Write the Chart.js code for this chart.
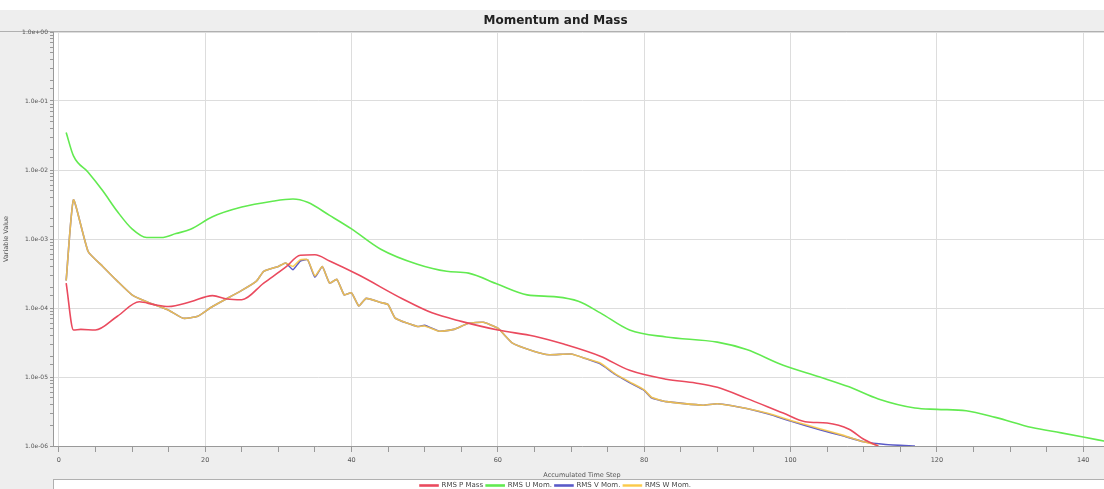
<!DOCTYPE html>
<html>
<head>
<meta charset="utf-8">
<script src="https://cdn.jsdelivr.net/npm/chart.js@4.4.0/dist/chart.umd.min.js"></script>
<style>
html, body { margin: 0; padding: 0; background: #fff; overflow: hidden; }
canvas { display: block; }
</style>
</head>
<body>
<canvas id="chart" width="1164" height="489"></canvas>
<script>
// RMS P Mass
const pSteps = [1, 2, 3, 5, 8, 11, 13, 15, 18, 21, 23, 25, 28, 31, 33, 35, 37, 41, 47, 51, 55, 60, 65, 69, 74, 78, 83, 87, 90, 94, 99, 102, 105, 108, 110, 112];
const pValues = [2.3e-4, 4.8e-5, 4.9e-5, 4.8e-5, 7.6e-5, 1.23e-4, 1.12e-4, 1.05e-4, 1.23e-4, 1.51e-4, 1.35e-4, 1.32e-4, 2.3e-4, 3.9e-4, 5.8e-4, 5.9e-4, 4.8e-4, 3.0e-4, 1.35e-4, 8.5e-5, 6.4e-5, 4.8e-5, 3.9e-5, 3.0e-5, 2.0e-5, 1.25e-5, 9.3e-6, 8.2e-6, 7.1e-6, 4.9e-6, 3.0e-6, 2.25e-6, 2.15e-6, 1.75e-6, 1.25e-6, 1.0e-6];

// RMS U Mom.
const uSteps = [1, 2, 4, 6, 8, 10, 12, 14, 16, 18, 21, 25, 29, 32, 34, 37, 40, 44, 49, 53, 56, 60, 64, 68, 71, 74, 78, 83, 90, 94, 99, 104, 108, 112, 117, 120, 124, 128, 133, 137, 140, 143];
const uValues = [3.5e-2, 1.6e-2, 9.3e-3, 5.0e-3, 2.5e-3, 1.4e-3, 1.05e-3, 1.05e-3, 1.2e-3, 1.38e-3, 2.1e-3, 2.9e-3, 3.5e-3, 3.8e-3, 3.4e-3, 2.2e-3, 1.4e-3, 7.1e-4, 4.3e-4, 3.4e-4, 3.2e-4, 2.2e-4, 1.55e-4, 1.45e-4, 1.25e-4, 8.5e-5, 4.8e-5, 3.8e-5, 3.2e-5, 2.5e-5, 1.48e-5, 1.0e-5, 7.2e-6, 4.8e-6, 3.55e-6, 3.4e-6, 3.25e-6, 2.6e-6, 1.85e-6, 1.55e-6, 1.35e-6, 1.17e-6];

// RMS V Mom.
const vSteps = [1, 2, 4, 6, 8, 10, 12, 15, 17, 19, 21, 25, 27, 28, 30, 31, 32, 33, 34, 35, 36, 37, 38, 39, 40, 41, 42, 44, 45, 46, 49, 50, 52, 54, 56, 58, 60, 62, 65, 67, 70, 72, 74, 76, 78, 80, 81, 83, 88, 90, 94, 97, 100, 104, 107, 110, 113, 117];
const vValues = [2.5e-4, 3.7e-3, 6.6e-4, 4.0e-4, 2.45e-4, 1.55e-4, 1.23e-4, 9.3e-5, 7.1e-5, 7.6e-5, 1.05e-4, 1.8e-4, 2.45e-4, 3.4e-4, 4.0e-4, 4.5e-4, 3.6e-4, 4.8e-4, 5.0e-4, 2.8e-4, 4.0e-4, 2.3e-4, 2.6e-4, 1.55e-4, 1.66e-4, 1.07e-4, 1.38e-4, 1.2e-4, 1.12e-4, 7.1e-5, 5.4e-5, 5.6e-5, 4.6e-5, 4.9e-5, 6.0e-5, 6.2e-5, 5.1e-5, 3.1e-5, 2.35e-5, 2.1e-5, 2.15e-5, 1.85e-5, 1.55e-5, 1.1e-5, 8.3e-6, 6.4e-6, 5.0e-6, 4.4e-6, 3.9e-6, 4.1e-6, 3.5e-6, 2.9e-6, 2.3e-6, 1.72e-6, 1.42e-6, 1.15e-6, 1.05e-6, 1.0e-6];

// RMS W Mom.
const wSteps = [1, 2, 4, 6, 8, 10, 12, 15, 17, 19, 21, 25, 27, 28, 30, 31, 32, 33, 34, 35, 36, 37, 38, 39, 40, 41, 42, 44, 45, 46, 49, 50, 52, 54, 56, 58, 60, 62, 65, 67, 70, 72, 74, 76, 78, 80, 81, 83, 88, 90, 94, 97, 100, 104, 107, 110, 112];
const wValues = [2.5e-4, 3.7e-3, 6.6e-4, 4.0e-4, 2.45e-4, 1.55e-4, 1.23e-4, 9.3e-5, 7.1e-5, 7.6e-5, 1.05e-4, 1.8e-4, 2.45e-4, 3.4e-4, 4.0e-4, 4.5e-4, 4.0e-4, 5.0e-4, 5.0e-4, 2.9e-4, 4.0e-4, 2.3e-4, 2.6e-4, 1.55e-4, 1.66e-4, 1.07e-4, 1.38e-4, 1.2e-4, 1.12e-4, 7.1e-5, 5.4e-5, 5.5e-5, 4.6e-5, 4.9e-5, 6.0e-5, 6.2e-5, 5.1e-5, 3.1e-5, 2.35e-5, 2.1e-5, 2.15e-5, 1.85e-5, 1.6e-5, 1.12e-5, 8.5e-6, 6.5e-6, 5.1e-6, 4.4e-6, 3.9e-6, 4.1e-6, 3.5e-6, 2.95e-6, 2.35e-6, 1.78e-6, 1.45e-6, 1.15e-6, 1.02e-6];

const seriesNames = ['RMS P Mass', 'RMS U Mom.', 'RMS V Mom.', 'RMS W Mom.'];
const seriesColors = ['#ea4a5e', '#62ea50', '#5a5ac8', 'rgba(250,200,70,0.88)'];
const seriesOrder = [0, 1, 3, 2];

const xTitle = 'Accumulated Time Step';
const yTitle = 'Variable Value';

let toPoints = (steps, values) => steps.map((s, i) => ({ x: s, y: values[i] }));

let isPow10 = (v) => {
    let l = Math.log10(v);
    return Math.abs(l - Math.round(l)) < 1e-9;
}

let expLabel = (v) => {
    let e = Math.round(Math.log10(v));
    let sign = e < 0 ? '-' : '+';
    let n = Math.abs(e);
    return `1.0e${sign}${n < 10 ? '0' + n : n}`;
}

let makeSet = (i, steps, values, smooth) => ({
    label: seriesNames[i],
    data: toPoints(steps, values),
    borderColor: seriesColors[i],
    backgroundColor: seriesColors[i],
    order: seriesOrder[i],
    borderWidth: 1.6,
    pointRadius: 0,
    cubicInterpolationMode: smooth ? 'monotone' : 'default',
    tension: smooth ? 0.4 : 0.15,
});

const backdrop = {
    id: 'backdrop',
    beforeDraw(chart) {
        const { ctx, chartArea: a, width, height } = chart;
        const lg = chart.legend;
        ctx.save();
        ctx.fillStyle = '#ffffff';
        ctx.fillRect(0, 0, width, height);
        ctx.fillStyle = '#eeeeee';
        ctx.fillRect(0, 10, width, height - 10);
        ctx.fillStyle = '#ffffff';
        ctx.fillRect(a.left, a.top, a.right - a.left, a.bottom - a.top);
        ctx.fillRect(a.left, lg.top, a.right - a.left, height - lg.top);
        ctx.strokeStyle = '#b0b0b0';
        ctx.lineWidth = 1;
        ctx.strokeRect(a.left + 0.5, lg.top + 0.5, a.right - a.left, height);
        ctx.beginPath();
        ctx.moveTo(0, a.top - 0.5);
        ctx.lineTo(width, a.top - 0.5);
        ctx.stroke();
        ctx.restore();
    }
};

Chart.defaults.font.family = 'DejaVu Sans';

const chart = new Chart(document.querySelector('#chart'), {
    type: 'line',
    data: {
        datasets: [
            makeSet(0, pSteps, pValues, true),
            makeSet(1, uSteps, uValues, true),
            makeSet(2, vSteps, vValues, false),
            makeSet(3, wSteps, wValues, false),
        ],
    },
    options: {
        responsive: false,
        animation: false,
        devicePixelRatio: 1,
        layout: { padding: { left: 0, right: 53, top: 0, bottom: -10 } },
        plugins: {
            title: {
                display: true,
                text: 'Momentum and Mass',
                font: { size: 12, weight: 'bold' },
                color: '#222',
                padding: { top: 14, bottom: 3.6 },
            },
            legend: {
                position: 'bottom',
                labels: {
                    boxWidth: 18,
                    boxHeight: 1,
                    font: { size: 7 },
                    color: '#444',
                    padding: 3,
                    sort: (a, b) => a.datasetIndex - b.datasetIndex,
                },
            },
            tooltip: { enabled: false },
        },
        scales: {
            x: {
                type: 'linear',
                min: -0.8,
                max: 143.8,
                afterFit: (s) => { s.height = 33; },
                ticks: {
                    stepSize: 5,
                    includeBounds: false,
                    autoSkip: false,
                    maxRotation: 0,
                    font: { size: 6.5 },
                    color: '#555',
                    padding: 4,
                    callback: (v) => (v % 20 === 0 ? String(v) : ''),
                },
                grid: {
                    color: (c) => (c.tick && c.tick.value % 20 === 0 ? '#dddddd' : 'rgba(0,0,0,0)'),
                    tickColor: '#999',
                    tickLength: 6,
                },
                border: { color: '#999' },
                title: { display: true, text: xTitle, font: { size: 6.5 }, color: '#555', padding: { top: 2, bottom: 0 } },
            },
            y: {
                type: 'logarithmic',
                min: 1e-6,
                max: 1,
                afterFit: (s) => { s.width = 53; },
                ticks: {
                    autoSkip: false,
                    font: { size: 6 },
                    color: '#555',
                    padding: 2,
                    callback: (v) => (isPow10(v) ? expLabel(v) : ''),
                },
                grid: {
                    color: (c) => (c.tick && isPow10(c.tick.value) ? '#dddddd' : 'rgba(0,0,0,0)'),
                    tickColor: '#999',
                    tickLength: 3,
                },
                border: { color: '#999' },
                title: { display: true, text: yTitle, font: { size: 6.5 }, color: '#555', padding: 2 },
            },
        },
    },
    plugins: [backdrop],
});
</script>
</body>
</html>
